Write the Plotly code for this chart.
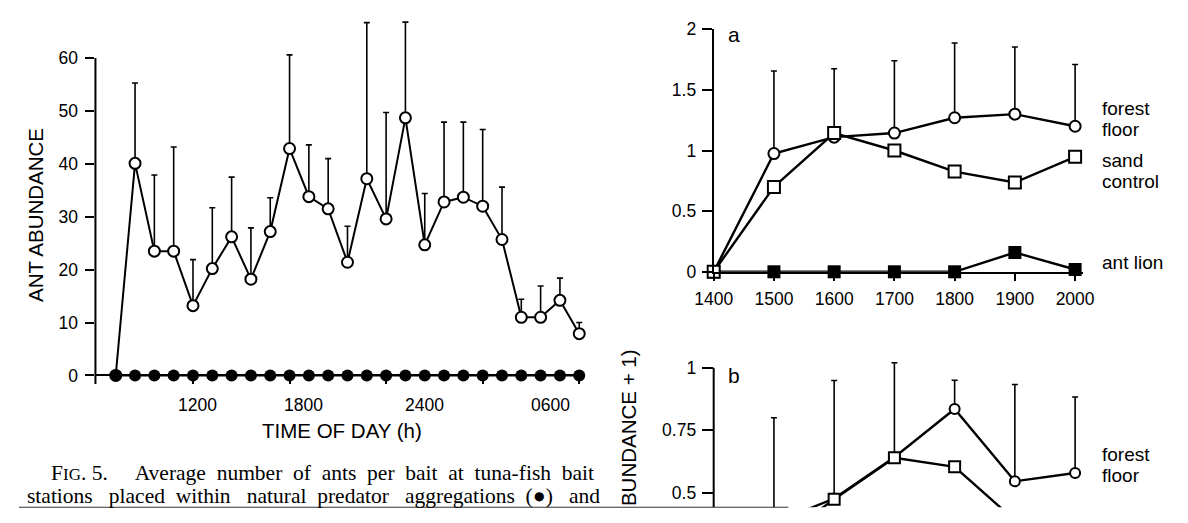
import plotly.graph_objects as go

W, H = 1188, 523

def fx(px):
    return px / W

def fy(px):
    return 1 - px / H

# ---------------- data ----------------
# Left chart (Fig. 5): hourly sampling index along the time axis
time_index = list(range(25))
time_tickvals = [4, 9, 14, 19, 24]                 # tick marks under the points
time_label_pos = [4.25, 9.74, 15.97, 22.53]        # where the hour labels sit
time_label_text = ["1200", "1800", "2400", "0600"]

open_mean = [0, 40.1, 23.5, 23.5, 13.2, 20.2, 26.2, 18.2, 27.2, 42.9, 33.8, 31.5, 21.4,
             37.2, 29.6, 48.7, 24.7, 32.8, 33.7, 32.0, 25.7, 11.0, 11.0, 14.2, 7.9]
open_err = [0, 15.2, 14.4, 19.7, 8.7, 11.5, 11.3, 9.7, 6.4, 17.7, 9.8, 9.5, 6.8,
            29.5, 20.1, 18.1, 9.7, 15.1, 14.2, 14.5, 9.9, 3.4, 5.9, 4.2, 2.1]
filled_mean = [0] * 25

# Right panels
hours = [1400, 1500, 1600, 1700, 1800, 1900, 2000]

a_forest = [0, 0.975, 1.11, 1.144, 1.27, 1.30, 1.20]
a_forest_err = [0, 0.681, 0.564, 0.596, 0.616, 0.554, 0.509]
a_sand = [0, 0.70, 1.144, 1.00, 0.826, 0.736, 0.948]
a_antlion = [0, 0, 0, 0, 0, 0.159, 0.019]

b_forest = [0, 0.38, 0.477, 0.642, 0.835, 0.546, 0.579]
b_forest_err = [0, 0.42, 0.472, 0.378, 0.115, 0.387, 0.304]
b_sand = [0, 0.30, 0.474, 0.64, 0.604, 0.39, 0.40]

SANS = "Liberation Sans"
SERIF = "Liberation Serif"
TICKF = dict(family=SANS, size=17.5, color="black")

fig = go.Figure()

# ---- left chart ----
fig.add_trace(go.Scatter(
    x=time_index, y=open_mean, mode="lines+markers", xaxis="x", yaxis="y",
    line=dict(color="black", width=2),
    marker=dict(symbol="circle", size=11, color="white", line=dict(color="black", width=2)),
    error_y=dict(type="data", symmetric=False, array=open_err, arrayminus=[0] * 25,
                 color="black", thickness=1.6, width=3),
    cliponaxis=False, showlegend=False))
fig.add_trace(go.Scatter(
    x=time_index, y=filled_mean, mode="lines+markers", xaxis="x", yaxis="y",
    line=dict(color="black", width=2),
    marker=dict(symbol="circle", size=12, color="black"),
    cliponaxis=False, showlegend=False))

# ---- panel a ----
fig.add_trace(go.Scatter(
    x=hours, y=a_antlion, mode="lines+markers", xaxis="x2", yaxis="y2",
    line=dict(color="black", width=2.4),
    marker=dict(symbol="square", size=13, color="black"),
    cliponaxis=False, showlegend=False))
fig.add_trace(go.Scatter(
    x=hours, y=a_forest, mode="lines+markers", xaxis="x2", yaxis="y2",
    line=dict(color="black", width=2.4),
    marker=dict(symbol="circle", size=11, color="white", line=dict(color="black", width=2)),
    error_y=dict(type="data", symmetric=False, array=a_forest_err, arrayminus=[0] * 7,
                 color="black", thickness=1.6, width=3),
    cliponaxis=False, showlegend=False))
fig.add_trace(go.Scatter(
    x=hours, y=a_sand, mode="lines+markers", xaxis="x2", yaxis="y2",
    line=dict(color="black", width=2.4),
    marker=dict(symbol="square", size=12, color="white", line=dict(color="black", width=2)),
    cliponaxis=False, showlegend=False))

# ---- panel b (cut off at bottom) ----
fig.add_trace(go.Scatter(
    x=hours, y=b_forest, mode="lines+markers", xaxis="x3", yaxis="y3",
    line=dict(color="black", width=2.4),
    marker=dict(symbol="circle", size=10, color="white", line=dict(color="black", width=2)),
    error_y=dict(type="data", symmetric=False, array=b_forest_err, arrayminus=[0] * 7,
                 color="black", thickness=1.6, width=3),
    cliponaxis=True, showlegend=False))
fig.add_trace(go.Scatter(
    x=hours, y=b_sand, mode="lines+markers", xaxis="x3", yaxis="y3",
    line=dict(color="black", width=2.4),
    marker=dict(symbol="square", size=11, color="white", line=dict(color="black", width=2)),
    cliponaxis=True, showlegend=False))

# ---------------- axes ----------------
L_X0, L_X1 = 78.5, 580.0
L_P0, L_STEP = 99.33, 19.83
L_Y0PX, L_PXU = 380.0, 5.5
l_ybot = (L_Y0PX - 389) / L_PXU
l_ytop = (L_Y0PX - 8) / L_PXU

R_X0, R_X1 = 713.3, 1092.0
R_STEP = 0.6185
r_xr = [1400, 1400 + (R_X1 - R_X0) / R_STEP]

A_Y0, A_Y2 = 272.2, 20.0
B_Y1PX, B_PXU = 372.0, 260.0
b_ybot = 1 - (517 - B_Y1PX) / B_PXU
b_ytop = 1 + (B_Y1PX - 355) / B_PXU

axis_common = dict(showgrid=False, tickfont=TICKF, tickcolor="black", tickwidth=1.6,
                   linecolor="black")

fig.update_layout(
    width=W, height=H, margin=dict(l=0, r=0, t=0, b=0),
    paper_bgcolor="white", plot_bgcolor="rgba(0,0,0,0)",
    font=dict(family=SANS, color="black"),
    xaxis=dict(domain=[fx(L_X0), fx(L_X1)],
               range=[(L_X0 - L_P0) / L_STEP, (L_X1 - L_P0) / L_STEP],
               anchor="y", showline=False, zeroline=False, ticks="inside", ticklen=9,
               tickvals=time_tickvals, showticklabels=False, **axis_common),
    yaxis=dict(domain=[fy(389), fy(8)], range=[l_ybot, l_ytop], anchor="x",
               showline=False, zeroline=True, zerolinecolor="black", zerolinewidth=2,
               ticks="outside", ticklen=9, tickvals=[0, 10, 20, 30, 40, 50, 60],
               ticklabelstandoff=4, **axis_common),
    xaxis2=dict(domain=[fx(R_X0), fx(R_X1)], range=r_xr, anchor="y2",
                showline=True, linewidth=2, zeroline=False, ticks="outside", ticklen=7,
                tickvals=hours, ticklabelstandoff=3, **axis_common),
    yaxis2=dict(domain=[fy(A_Y0), fy(A_Y2)], range=[0, 2], anchor="x2",
                showline=True, linewidth=2, zeroline=False, ticks="outside", ticklen=10,
                tickvals=[0, 0.5, 1, 1.5, 2], ticktext=["0", "0.5", "1", "1.5", "2"],
                ticklabelstandoff=2, **axis_common),
    xaxis3=dict(domain=[fx(R_X0), fx(R_X1)], range=r_xr, anchor="y3", visible=False),
    yaxis3=dict(domain=[fy(517), fy(355)], range=[b_ybot, b_ytop], anchor="x3",
                showline=False, zeroline=False, ticks="outside", ticklen=11,
                tickvals=[0.5, 0.75, 1], ticktext=["0.5", "0.75", "1"],
                ticklabelstandoff=2, **axis_common),
)

# axis lines drawn through the axes' own scales
fig.add_shape(type="line", xref="x domain", yref="y", x0=0, x1=0, y0=l_ybot, y1=60,
              line=dict(color="black", width=2))
fig.add_shape(type="line", xref="x3 domain", yref="y3", x0=0, x1=0, y0=b_ybot, y1=1,
              line=dict(color="black", width=2))
# crop edge of the scanned page
fig.add_shape(type="line", xref="paper", yref="paper", x0=0, x1=fx(790), y0=fy(517), y1=fy(517),
              line=dict(color="#333333", width=1.2))

# hour labels of the left time axis
for pos, lab in zip(time_label_pos, time_label_text):
    fig.add_annotation(text=lab, x=pos, xref="x", y=fy(410.5), yref="paper",
                       xanchor="center", yanchor="middle", showarrow=False,
                       font=TICKF)

def ann(text, x, y, size=19, xanchor="center", yanchor="middle", angle=0, family=SANS):
    fig.add_annotation(text=text, x=fx(x), y=fy(y), xref="paper", yref="paper",
                       xanchor=xanchor, yanchor=yanchor, textangle=angle, showarrow=False,
                       borderpad=0, font=dict(family=family, size=size, color="black"))

ann("ANT ABUNDANCE", 17.5, 213, size=20.5, angle=-90)
ann("TIME OF DAY (h)", 332, 437, size=20.5)
ann("a", 734, 25, size=21)
ann("b", 734, 380, size=21)
ann("forest", 1111, 102.3, xanchor="left")
ann("floor", 1111, 123.8, xanchor="left")
ann("sand", 1111, 156.3, xanchor="left")
ann("control", 1111, 177.8, xanchor="left")
ann("ant lion", 1111, 263, xanchor="left")
ann("forest", 1111, 462.3, xanchor="left")
ann("floor", 1111, 483.8, xanchor="left")
ann("BUNDANCE + 1)", 626, 434, size=20.5, angle=-90)

NB = "\u00a0"

def join_words(words, gaps):
    out = words[0]
    for w, g in zip(words[1:], gaps):
        out += NB * g + w
    return out

line1_words = ["Average", "number", "of", "ants", "per", "bait", "at", "tuna-fish", "bait"]
line1_gaps = [2, 2, 2, 2, 2, 2, 2, 2]
line2_words = ["stations", "placed", "within", "natural", "predator", "aggregations",
               "(\u25cf)", "and"]
line2_gaps = [3, 2, 3, 2, 3, 2, 3]
ann("F<span style='font-size:17px'>IG</span>." + NB + "5." + NB * 5 +
    join_words(line1_words, line1_gaps),
    32, 481.5, size=21.5, xanchor="left", family=SERIF)
ann(join_words(line2_words, line2_gaps), 7, 505.5, size=21.5, xanchor="left", family=SERIF)

fig.write_html("out.html", config={"displayModeBar": False},
               post_script="document.body.style.margin='0';"
                           "document.body.style.overflow='hidden';")
